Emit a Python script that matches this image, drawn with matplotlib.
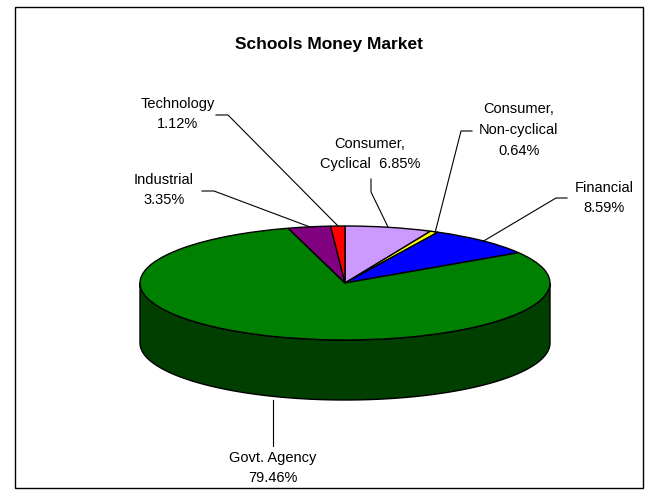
import numpy as np
import matplotlib.pyplot as plt
from matplotlib.patches import Polygon, Rectangle

plt.rcParams['font.family'] = ['Liberation Sans', 'DejaVu Sans']

title = "Schools Money Market"
sectors = ["Consumer, Cyclical", "Consumer, Non-cyclical", "Financial",
           "Govt. Agency", "Industrial", "Technology"]
shares = [6.85, 0.64, 8.59, 79.46, 3.35, 1.12]
label_text = ["Consumer,\nCyclical  6.85%", "Consumer,\nNon-cyclical\n0.64%",
              "Financial\n8.59%", "Govt. Agency\n79.46%",
              "Industrial\n3.35%", "Technology\n1.12%"]
top_colors = ["#CC99FF", "#FFFF00", "#0000FF", "#008000", "#800080", "#FF0000"]
side_colors = ["#66507F", "#7F7F00", "#00007F", "#003F00", "#400040", "#7F0000"]

W, H = 658, 495
cx, cy = 345, 283      # pie centre in pixels
rx, ry = 205, 57       # ellipse radii in pixels
depth = 60 / ry        # thickness in y data units

fig = plt.figure(figsize=(W / 100, H / 100), dpi=100)

# pie axes: unit circle squashed into an ellipse
ax = fig.add_axes([0, 0, 1, 1])
wedges, _ = ax.pie(shares, colors=top_colors, startangle=90, counterclock=False,
                   radius=1, center=(0, 0),
                   wedgeprops=dict(edgecolor="black", linewidth=1, zorder=3))
ax.set_aspect("auto")
ax.set_xlim(-cx / rx, (W - cx) / rx)
ax.set_ylim((cy - H) / ry, cy / ry)
ax.axis("off")

# front wall of the cylinder, only for the part facing the viewer
for w, col in zip(wedges, side_colors):
    t1, t2 = w.theta1, w.theta2
    for shift in (-360, 0, 360):
        lo = max(t1 + shift, 180)
        hi = min(t2 + shift, 360)
        if lo < hi:
            t = np.radians(np.linspace(lo, hi, 200))
            top = np.column_stack([np.cos(t), np.sin(t)])
            bot = np.column_stack([np.cos(t[::-1]), np.sin(t[::-1]) - depth])
            ax.add_patch(Polygon(np.vstack([top, bot]), closed=True,
                                 facecolor=col, edgecolor="black",
                                 linewidth=1, zorder=1))

# overlay in pixel coordinates for text, leaders and frame
ov = fig.add_axes([0, 0, 1, 1], facecolor="none")
ov.set_xlim(0, W)
ov.set_ylim(H, 0)
ov.axis("off")

ov.add_patch(Rectangle((15, 7), 628, 481, fill=False, edgecolor="black", linewidth=1))
ov.text(329, 45, title, ha="center", va="center", fontsize=12.5, fontweight="bold")

label_pos = [(370, 154), (519, 130), (604, 198), (273, 468), (164, 190), (178, 114)]
leaders = [
    [(371, 179), (371, 192), (388, 227)],
    [(472, 131), (461, 131), (435, 233)],
    [(567, 198), (556, 198), (482, 242)],
    [(273, 400), (273, 446)],
    [(202, 191), (214, 191), (310, 227)],
    [(216, 115), (228, 115), (338, 226)],
]
for txt, (x, y), pts in zip(label_text, label_pos, leaders):
    ov.text(x, y, txt, ha="center", va="center", fontsize=10.5, linespacing=1.6)
    xs, ys = zip(*pts)
    ov.plot(xs, ys, color="black", linewidth=0.8)

fig.savefig("out.png", dpi=100, facecolor="white")
